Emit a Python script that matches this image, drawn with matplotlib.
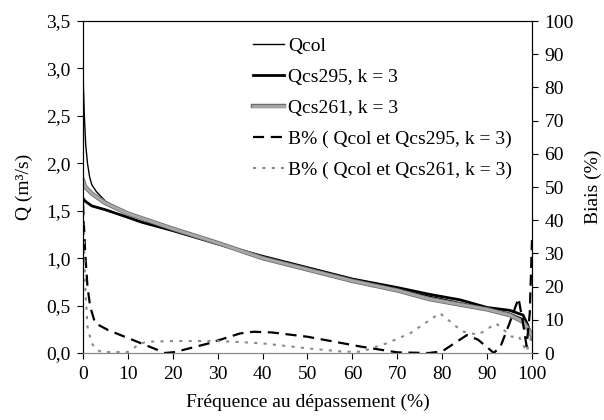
import matplotlib
matplotlib.use('Agg')
import matplotlib.pyplot as plt
import matplotlib.patheffects as pe
from matplotlib.ticker import FuncFormatter

plt.rcParams['font.family'] = ['Liberation Serif', 'DejaVu Serif']
plt.rcParams['font.size'] = 14

# debits (m3/s) en fonction de la frequence au depassement (%)
x_qcol = [0, 0.3, 0.6, 1, 1.5, 2, 3, 5, 10, 15, 20, 30, 40, 50, 60, 70, 80, 90, 95, 98, 99, 100]
q_col = [2.95, 2.5, 2.2, 2.0, 1.85, 1.77, 1.7, 1.6, 1.46, 1.39, 1.32, 1.17, 1.01, 0.88, 0.77,
         0.67, 0.57, 0.47, 0.42, 0.36, 0.3, 0.2]

x_q295 = [0, 0.5, 2, 5, 10, 13, 20, 30, 40, 50, 60, 70, 77, 84, 90, 95, 98, 99, 100]
q_cs295 = [1.63, 1.6, 1.55, 1.51, 1.43, 1.38, 1.29, 1.15, 1.02, 0.9, 0.78, 0.69, 0.62, 0.56,
           0.48, 0.45, 0.40, 0.3, 0.15]

x_q261 = [0, 0.5, 2, 5, 10, 20, 30, 40, 50, 60, 70, 77, 84, 90, 95, 98, 99.6, 100]
q_cs261 = [1.82, 1.75, 1.68, 1.58, 1.47, 1.31, 1.16, 1.0, 0.88, 0.76, 0.66, 0.57, 0.51, 0.46,
           0.40, 0.33, 0.22, 0.18]

# biais (%)
x_b295 = [0, 0.5, 1, 1.6, 2.7, 5.6, 13, 18.3, 20.5, 28, 35, 38, 42, 50, 62, 70, 77, 80, 85.5,
          88, 91.5, 93, 95, 97, 98, 98.8, 99.5, 100]
b_295 = [45, 30, 20, 14, 9, 6.9, 2.9, 0, 0.3, 2.9, 5.9, 6.4, 6.2, 4.9, 1.9, 0.2, 0, 0.5, 5.4,
         4, 0, 2, 9, 16.5, 9, 2, 12, 34]

x_b261 = [0, 0.5, 1, 1.9, 3, 4.2, 10, 12.3, 14, 20, 30, 35, 40, 50, 58, 62, 67.6, 72.8, 79.5,
          83.2, 84.8, 88, 92, 95.5, 97, 98.8, 100]
b_261 = [45, 20, 8, 3, 1, 0.3, 0.3, 2.4, 3.4, 3.6, 3.6, 3.3, 2.9, 1.4, 0.4, 0.4, 2.9, 5.9, 12,
         7.9, 6.4, 5.5, 8.9, 4.9, 5.2, 0.4, 5.5]

fig = plt.figure(figsize=(6.04, 4.2), dpi=100)
ax = fig.add_axes([0.1374, 0.1595, 0.7434, 0.7905])
ax2 = ax.twinx()

l1, = ax.plot(x_qcol, q_col, color='black', lw=1.0, label='Qcol')
l2, = ax.plot(x_q295, q_cs295, color='black', lw=2.0, label='Qcs295, k = 3')
l3, = ax.plot(x_q261, q_cs261, color='#a8a8a8', lw=2.0, label='Qcs261, k = 3',
              path_effects=[pe.Stroke(linewidth=3.2, foreground='#6e6e6e'), pe.Normal()])
l4, = ax2.plot(x_b295, b_295, color='black', lw=1.6, ls=(0, (5, 3)),
               label='B% ( Qcol et Qcs295, k = 3)')
l5, = ax2.plot(x_b261, b_261, color='#8a8a8a', lw=1.5, ls=(0, (1.5, 3)),
               label='B% ( Qcol et Qcs261, k = 3)')

ax.set_xlim(0, 100)
ax.set_ylim(0, 3.5)
ax2.set_ylim(0, 100)
ax.set_xticks(range(0, 101, 10))
ax.set_yticks([0, 0.5, 1, 1.5, 2, 2.5, 3, 3.5])
ax2.set_yticks(range(0, 101, 10))
ax.yaxis.set_major_formatter(FuncFormatter(lambda v, p: ('%.1f' % v).replace('.', ',')))

for a in (ax, ax2):
    a.tick_params(direction='out', length=4, width=0.8, labelsize=14, pad=5)
ax.spines['bottom'].set_color('#888888')
ax2.spines['bottom'].set_color('#888888')

ax.set_xlabel('Fréquence au dépassement (%)', fontsize=14, labelpad=8)
ax.set_ylabel('Q (m³/s)', fontsize=14, labelpad=9)
ax2.set_ylabel('Biais (%)', fontsize=14, labelpad=8)

ax2.legend(handles=[l1, l2, l3, l4, l5], loc='upper left', bbox_to_anchor=(0.379, 0.95),
           frameon=False, fontsize=14, handlelength=1.6, handletextpad=0.2,
           labelspacing=0.68, borderaxespad=0, borderpad=0)

fig.savefig('out.png', dpi=100)
